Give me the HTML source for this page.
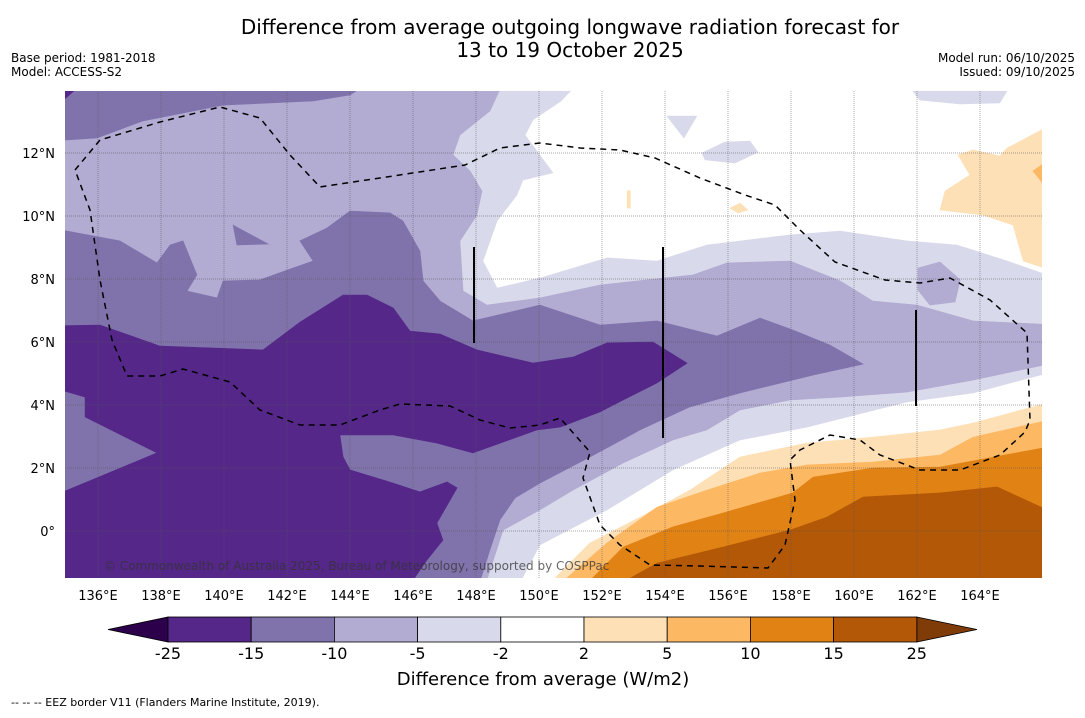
<!DOCTYPE html>
<html><head><meta charset="utf-8">
<style>
body{margin:0;background:#fff;width:1085px;height:713px;overflow:hidden;font-family:"Liberation Sans","DejaVu Sans",sans-serif;}
svg text{font-family:"DejaVu Sans","Liberation Sans",sans-serif;}
</style></head><body>
<svg id="chart" width="1085" height="713" viewBox="0 0 1085 713">
<text x="570" y="34" text-anchor="middle" font-size="20">Difference from average outgoing longwave radiation forecast for</text>
<text x="570" y="57" text-anchor="middle" font-size="20">13 to 19 October 2025</text>
<text x="11" y="62" font-size="12">Base period: 1981-2018</text>
<text x="11" y="76" font-size="12">Model: ACCESS-S2</text>
<text x="1075" y="62" font-size="12" text-anchor="end">Model run: 06/10/2025</text>
<text x="1075" y="76" font-size="12" text-anchor="end">Issued: 09/10/2025</text>
<defs><clipPath id="mapclip"><rect x="65" y="91" width="977" height="487"/></clipPath></defs>
<g clip-path="url(#mapclip)">
<rect x="65" y="91" width="977" height="487" fill="#ffffff"/>
<g id="fills"></g>
<g id="grid"></g>
<path d="M75,170 L100,140 L160,122 L220,107 L260,118 L290,155 L320,187 L380,178 L465,165 L500,148 L540,143 L580,148 L620,150 L655,158 L700,178 L745,195 L775,205 L800,230 L835,262 L885,280 L920,283 L950,278 L990,300 L1027,333 L1030,420 L1025,432 L1000,455 L960,470 L920,470 L880,455 L860,440 L830,435 L800,450 L790,460 L795,500 L785,545 L768,568 L700,566 L650,565 L620,545 L600,525 L583,478 L590,452 L560,418 L540,425 L510,428 L480,420 L450,406 L400,404 L380,410 L340,425 L300,425 L260,410 L230,382 L183,369 L160,376 L127,376 L112,340 L100,280 L90,210 Z" fill="none" stroke="#000" stroke-width="1.5" stroke-dasharray="6,5"/>
<line x1="474" y1="247" x2="474" y2="343" stroke="#000" stroke-width="2"/>
<line x1="663" y1="247" x2="663" y2="438" stroke="#000" stroke-width="2"/>
<line x1="916" y1="310" x2="916" y2="406" stroke="#000" stroke-width="2"/>
<text x="104" y="570" font-size="12" fill="#333" fill-opacity="0.75">© Commonwealth of Australia 2025, Bureau of Meteorology, supported by COSPPac</text>
</g>
<g id="axes"></g>
<g id="cbar"></g>
<text x="543" y="685" text-anchor="middle" font-size="18">Difference from average (W/m2)</text>
<text x="11" y="706" font-size="11">--  --  -- EEZ border V11 (Flanders Marine Institute, 2019).</text>
</svg>
<script>
const lonTicks=[136,138,140,142,144,146,148,150,152,154,156,158,160,162,164];
const latTicks=[12,10,8,6,4,2,0];
const cbLevels=[-25,-15,-10,-5,-2,2,5,10,15,25];
const cbColors=["#542788","#8073ac","#b2abd2","#d8daeb","#ffffff","#fee0b6","#fdb863","#e08214","#b35806"];
const L1=[[134.5,14.5],[151.5,14.5],[150.7,13.65],[149.81,13.05],[149.56,12.57],[150.44,11.37],[149.49,11.14],[149.3,10.67],[148.67,9.84],[148.22,8.57],[148.67,7.71],[150.03,8.03],[152.16,8.67],[153.75,8.57],[155.33,9.08],[157.97,9.4],[159.56,9.52],[161.68,9.21],[163.27,9.08],[164.86,8.57],[166.5,8.0],[166.5,5.11],[163.78,4.38],[161.68,4.1],[158.51,3.3],[156.38,2.89],[154.25,1.94],[152.16,0.67],[150.03,-0.44],[149.2,-2],[134.5,-2]];
const L1b=[[161.46,14.5],[165.17,14.5],[164.63,13.59],[163.36,13.56],[162.09,13.68]];
const L1c=[[154.06,13.17],[155.01,13.17],[154.6,12.48]];
const L1d=[[155.17,12.0],[155.9,12.35],[156.7,12.38],[156.95,12.03],[156.22,11.68],[155.27,11.78]];
const L2=[[134.5,14.5],[148.98,14.5],[148.44,13.33],[147.49,12.57],[147.27,11.94],[147.81,11.43],[148.19,10.79],[148.03,10.03],[147.49,9.21],[147.59,7.62],[148.35,7.17],[150.03,7.4],[151.94,7.81],[154.89,8.13],[155.97,8.51],[157.97,8.57],[159.56,7.94],[160.6,7.3],[162.0,7.17],[163.78,6.67],[166.5,6.54],[166.5,5.37],[163.78,4.79],[161.68,4.41],[159.56,4.25],[157.97,4.16],[156.38,3.84],[155.33,3.21],[154.25,2.89],[152.67,2.16],[151.08,1.3],[150.03,0.67],[148.86,0.03],[148.2,-2],[134.5,-2]];
const L2b=[[162.03,8.35],[162.73,8.54],[163.37,7.97],[163.21,7.27],[162.41,7.17],[162.03,7.65]];
const L3=[[134.5,9.62],[136.7,9.21],[137.87,8.51],[138.29,9.08],[138.7,9.21],[139.14,8.13],[138.83,7.62],[139.78,7.4],[139.97,7.94],[141.14,7.97],[142.19,8.35],[142.83,8.57],[142.41,9.21],[143.27,9.62],[144.0,10.16],[145.27,10.1],[145.68,9.84],[146.22,8.89],[146.32,7.94],[146.86,7.3],[147.9,6.67],[150.03,7.17],[151.94,6.54],[153.75,6.67],[155.65,6.19],[157.02,6.76],[158.06,6.38],[159.24,5.9],[160.29,5.3],[158.7,4.95],[156.38,4.38],[154.79,3.94],[153.21,3.21],[151.62,2.35],[150.03,1.52],[149.24,1.05],[148.76,0.35],[148.44,-0.6],[148.0,-2],[134.5,-2]];
const L3b=[[134.5,14.5],[145.02,14.5],[144.0,13.84],[142.83,13.65],[139.97,13.52],[137.43,13.02],[135.97,12.48],[134.5,12.38]];
const L3c=[[140.29,9.71],[141.4,9.11],[140.41,9.08]];
const L4=[[134.5,6.51],[136.06,6.54],[137.97,5.87],[141.24,5.75],[142.41,6.63],[143.78,7.49],[144.54,7.49],[145.37,7.08],[145.9,6.35],[146.86,6.25],[148.03,5.75],[149.81,5.33],[151.08,5.52],[152.16,5.97],[153.62,6.0],[154.7,5.33],[153.75,4.7],[152.67,4.16],[151.94,3.78],[150.67,3.3],[149.94,3.21],[147.9,2.48],[146.76,2.79],[145.37,3.05],[143.68,3.05],[143.78,2.35],[144.0,1.94],[145.37,1.52],[146.22,1.24],[147.08,1.56],[147.4,1.37],[146.76,0.25],[146.95,-0.29],[146.44,-0.92],[145.7,-2],[134.5,-2],[134.5,1.08],[137.87,2.48],[135.59,3.62],[135.59,4.25],[134.5,4.57]];
const L4b=[[134.5,14.5],[135.84,14.5],[134.5,13.33]];
const O1=[[150.0,-2],[151.62,-0.38],[153.21,0.44],[154.79,1.3],[156.38,2.35],[158.51,2.79],[160.6,2.98],[162.73,3.21],[163.78,3.43],[166.5,4.16],[166.5,-2]];
const O1b=[[166.5,13.02],[164.86,12.16],[164.63,11.9],[163.78,12.1],[163.3,11.94],[163.68,11.3],[162.89,10.79],[162.73,10.19],[164.1,10.03],[165.05,9.71],[165.37,8.57],[166.5,8.2]];
const O1c=[[156.06,10.25],[156.38,10.41],[156.63,10.19],[156.32,10.1]];
const O1d=[[152.8,10.8],[152.9,10.8],[152.9,10.25],[152.8,10.25]];
const O2=[[150.3,-2],[152.16,-0.38],[153.75,0.76],[155.33,1.3],[157.02,1.84],[158.51,2.1],[160.6,2.19],[162.73,2.41],[163.78,2.98],[166.5,3.59],[166.5,-2]];
const O2b=[[165.68,11.43],[166.5,12.0],[166.5,10.4]];
const O3=[[151.2,-2],[152.67,-0.51],[154.25,0.13],[155.84,0.57],[158.06,1.21],[158.7,1.71],[160.6,2.0],[162.73,2.03],[166.5,2.73],[166.5,-2]];
const O4=[[152.0,-2],[153.75,-1.02],[155.84,-0.51],[157.97,0.03],[159.14,0.44],[160.29,1.08],[162.73,1.21],[164.54,1.4],[166.5,0.5],[166.5,-2]];

const NS="http://www.w3.org/2000/svg";
function X(lon){return 66.5+(lon-135)*31.5;}
function Y(lat){return 531-lat*31.5;}
function mk(tag,attrs,parent){const e=document.createElementNS(NS,tag);for(const k in attrs)e.setAttribute(k,attrs[k]);parent.appendChild(e);return e;}
const fills=document.getElementById('fills');
function poly(pts,color,name){
  const d=pts.map((p,i)=>(i?'L':'M')+X(p[0]).toFixed(1)+','+Y(p[1]).toFixed(1)).join(' ')+'Z';
  const e=mk('path',{d:d,fill:color,stroke:color,'stroke-width':0.6},fills);
  
  
}
poly(L1,cbColors[3],'contour-minus5-to-minus2');
poly(L1b,cbColors[3],'contour-minus5-to-minus2-north');
poly(L1c,cbColors[3],'contour-minus5-to-minus2-island-a');
poly(L1d,cbColors[3],'contour-minus5-to-minus2-island-b');
poly(L2,cbColors[2],'contour-minus10-to-minus5');
poly(L2b,cbColors[2],'contour-minus10-to-minus5-island');
poly(L3,cbColors[1],'contour-minus15-to-minus10');
poly(L3b,cbColors[1],'contour-minus15-to-minus10-north');
poly(L3c,cbColors[1],'contour-minus15-to-minus10-island');
poly(L4,cbColors[0],'contour-below-minus15');
poly(L4b,cbColors[0],'contour-below-minus15-corner');
poly(O1,cbColors[5],'contour-2-to-5');
poly(O1b,cbColors[5],'contour-2-to-5-northeast');
poly(O1c,cbColors[5],'contour-2-to-5-islet-a');
poly(O1d,cbColors[5],'contour-2-to-5-islet-b');
poly(O2,cbColors[6],'contour-5-to-10');
poly(O2b,cbColors[6],'contour-5-to-10-northeast');
poly(O3,cbColors[7],'contour-10-to-15');
poly(O4,cbColors[8],'contour-above-15');

const grid=document.getElementById('grid');
lonTicks.forEach(v=>{
  const l=mk('line',{x1:X(v),x2:X(v),y1:91,y2:578,stroke:'#555','stroke-width':0.7,'stroke-dasharray':'1,1','stroke-opacity':0.7},grid);
  
  
});
latTicks.forEach(v=>{
  const l=mk('line',{x1:65,x2:1042,y1:Y(v),y2:Y(v),stroke:'#555','stroke-width':0.7,'stroke-dasharray':'1,1','stroke-opacity':0.7},grid);
  
  
});
const axes=document.getElementById('axes');
lonTicks.forEach(v=>{
  const t=mk('text',{x:X(v),y:600,'text-anchor':'middle','font-size':13},axes);
  t.textContent=v+'°E';
  
  
});
latTicks.forEach(v=>{
  const t=mk('text',{x:55,y:Y(v)+5,'text-anchor':'end','font-size':13},axes);
  t.textContent=v===0?'0°':v+'°N';
  
  
});
const cbar=document.getElementById('cbar');
const cbx0=168,cbw=83.2,cby=617,cbh=25;
const lt=mk('polygon',{points:`108,629.5 ${cbx0},${cby} ${cbx0},${cby+cbh}`,fill:'#2d004b',stroke:'#000','stroke-width':0.8},cbar);


const xe=cbx0+cbw*cbColors.length;
const rt=mk('polygon',{points:`${xe},${cby} 977,629.5 ${xe},${cby+cbh}`,fill:'#7f3b08',stroke:'#000','stroke-width':0.8},cbar);


cbColors.forEach((c,i)=>{
  const r=mk('rect',{x:cbx0+i*cbw,y:cby,width:cbw,height:cbh,fill:c,stroke:'#000','stroke-width':0.8},cbar);
  
  
});
cbLevels.forEach((v,i)=>{
  const t=mk('text',{x:cbx0+i*cbw,y:659,'text-anchor':'middle','font-size':16},cbar);
  t.textContent=v;
  
  
});
</script>
</body></html>
